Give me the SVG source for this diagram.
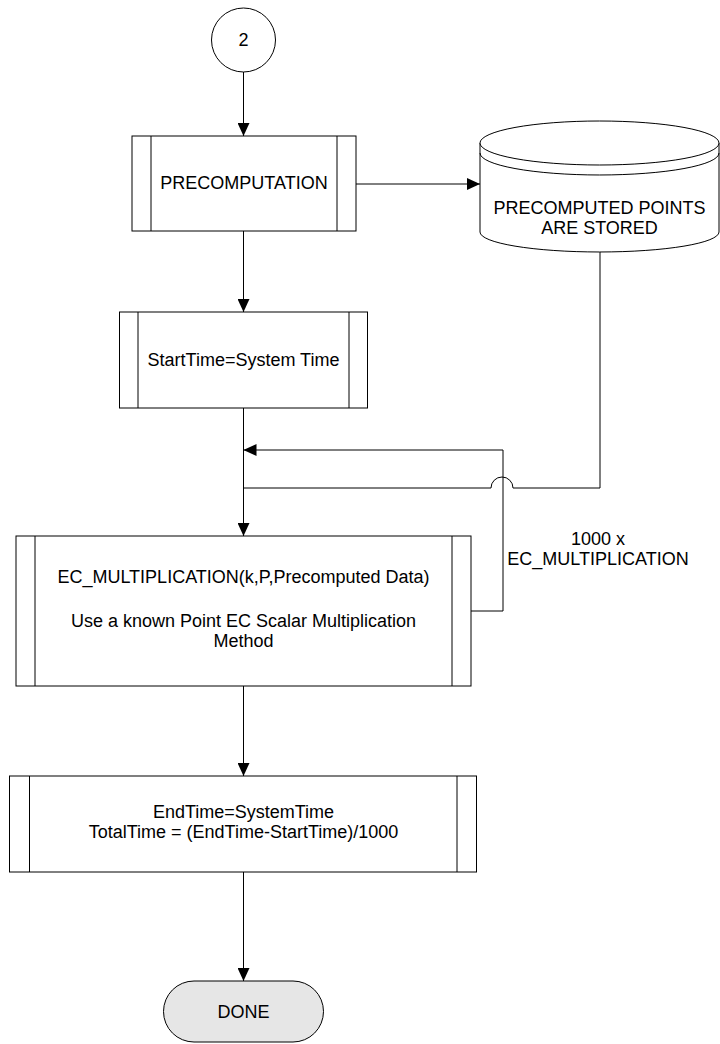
<svg xmlns="http://www.w3.org/2000/svg" width="720" height="1044" viewBox="0 0 720 1044">
  <style>
    .box { fill: #ffffff; stroke: #000000; stroke-width: 1; }
    .bar { stroke: #000000; stroke-width: 1; }
    .wire { fill: none; stroke: #000000; stroke-width: 1; }
    .t { font-family: "Liberation Sans", Arial, sans-serif; font-size: 18px; fill: #000000; text-anchor: middle; }
  </style>
  <defs>
    <marker id="arrow" markerUnits="userSpaceOnUse" markerWidth="13" markerHeight="12" refX="13" refY="6" orient="auto">
      <path d="M0,0 L13,6 L0,12 z" fill="#000000"/>
    </marker>
  </defs>

  <!-- connectors -->
  <g id="connectors">
    <path class="wire" d="M243.5,72 V136" marker-end="url(#arrow)"/>
    <path class="wire" d="M356,184 H480" marker-end="url(#arrow)"/>
    <path class="wire" d="M243.5,231 V312" marker-end="url(#arrow)"/>
    <path class="wire" d="M243.5,408 V536" marker-end="url(#arrow)"/>
    <!-- repeat loop back to the multiplication step -->
    <path class="wire" d="M471,611 H503 V450 H243.5" marker-end="url(#arrow)"/>
    <!-- stored data feed, hopping over the loop line -->
    <path class="wire" d="M600,252 V488 H513 A11,11 0 0 0 491,488 H243.5"/>
    <path class="wire" d="M243.5,686 V776" marker-end="url(#arrow)"/>
    <path class="wire" d="M243.5,872 V981" marker-end="url(#arrow)"/>
  </g>

  <g id="start">
    <circle cx="243.5" cy="40" r="32" class="box"/>
    <text class="t" x="243.5" y="46">2</text>
  </g>

  <g id="precomputation">
    <rect class="box" x="132" y="136" width="224" height="95"/>
    <line class="bar" x1="151" y1="136" x2="151" y2="231"/>
    <line class="bar" x1="337" y1="136" x2="337" y2="231"/>
    <text class="t" x="244" y="189">PRECOMPUTATION</text>
  </g>

  <g id="stored">
    <path class="box" d="M480,143 V232 A119.5,20 0 0 0 719,232 V143"/>
    <ellipse class="box" cx="599.5" cy="143" rx="119.5" ry="22"/>
    <path class="wire" d="M480,153 A119.5,22 0 0 0 719,153"/>
    <text class="t" x="599.5" y="214">PRECOMPUTED POINTS</text>
    <text class="t" x="599.5" y="234">ARE STORED</text>
  </g>

  <g id="starttime">
    <rect class="box" x="119.5" y="312" width="248" height="96"/>
    <line class="bar" x1="138" y1="312" x2="138" y2="408"/>
    <line class="bar" x1="349" y1="312" x2="349" y2="408"/>
    <text class="t" x="243.5" y="366">StartTime=System Time</text>
  </g>

  <g id="multiplication">
    <rect class="box" x="16" y="536" width="455" height="150"/>
    <line class="bar" x1="35" y1="536" x2="35" y2="686"/>
    <line class="bar" x1="452" y1="536" x2="452" y2="686"/>
    <text class="t" x="243.5" y="583">EC_MULTIPLICATION(k,P,Precomputed Data)</text>
    <text class="t" x="243.5" y="627">Use a known Point EC Scalar Multiplication</text>
    <text class="t" x="243.5" y="647">Method</text>
  </g>

  <g id="loop-label">
    <text class="t" x="598" y="545">1000 x</text>
    <text class="t" x="598" y="565">EC_MULTIPLICATION</text>
  </g>

  <g id="endtime">
    <rect class="box" x="9.5" y="776" width="467" height="96"/>
    <line class="bar" x1="29.5" y1="776" x2="29.5" y2="872"/>
    <line class="bar" x1="457" y1="776" x2="457" y2="872"/>
    <text class="t" x="243.5" y="818">EndTime=SystemTime</text>
    <text class="t" x="243.5" y="838">TotalTime = (EndTime-StartTime)/1000</text>
  </g>

  <g id="done">
    <rect x="163.5" y="981" width="160" height="61" rx="30.5" ry="30.5" fill="#e6e6e6" stroke="#000000" stroke-width="1"/>
    <text class="t" x="243.5" y="1018">DONE</text>
  </g>
</svg>
